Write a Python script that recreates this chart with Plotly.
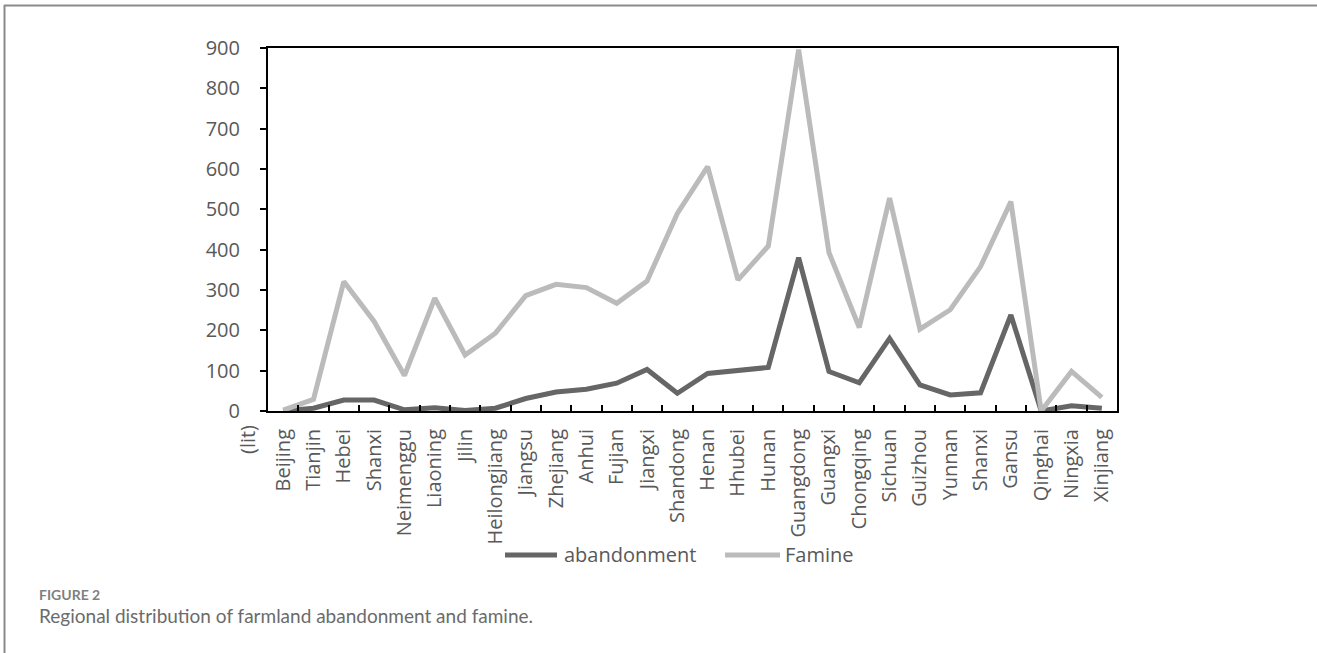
import plotly.graph_objects as go

# Provinces in display order
regions = ["Beijing", "Tianjin", "Hebei", "Shanxi", "Neimenggu", "Liaoning", "Jilin",
           "Heilongjiang", "Jiangsu", "Zhejiang", "Anhui", "Fujian", "Jiangxi", "Shandong",
           "Henan", "Hhubei", "Hunan", "Guangdong", "Guangxi", "Chongqing", "Sichuan",
           "Guizhou", "Yunnan", "Shanxi", "Gansu", "Qinghai", "Ningxia", "Xinjiang"]

abandonment = [0, 7, 27, 27, 3, 8, 1, 7, 31, 47, 54, 69, 103, 44, 93, 102, 108, 380,
               98, 70, 180, 65, 40, 45, 238, 0, 13, 7]

famine = [2, 29, 321, 222, 88, 280, 139, 193, 286, 314, 306, 267, 322, 490, 606, 325,
          409, 896, 393, 207, 528, 203, 251, 358, 519, 0, 98, 34]

y_ticks = list(range(0, 1000, 100))

series = [("abandonment", abandonment, "#666666"), ("Famine", famine, "#BBBBBB")]

W, H = 1317, 653
L, R, T, B = 268, 200, 48, 242
PW, PH = W - L - R, H - T - B


def px(x):
    return (x - L) / PW


def py(y):
    return (H - B - y) / PH


idx = list(range(len(regions)))
FONT = "Open Sans"
TXT = "#595959"

fig = go.Figure()
for name, vals, color in series:
    fig.add_trace(go.Scatter(x=idx, y=vals, mode="lines", name=name,
                             line=dict(color=color, width=5), showlegend=False))

fig.update_layout(
    width=W, height=H,
    margin=dict(l=L, r=R, t=T, b=B, pad=0),
    paper_bgcolor="white", plot_bgcolor="white",
    font=dict(family=FONT, size=20, color=TXT),
    xaxis=dict(
        range=[-0.5, len(regions) - 0.5],
        tickmode="array", tickvals=idx, ticktext=regions,
        tickangle=-90, ticks="", showgrid=False, zeroline=False,
        showline=True, linecolor="black", linewidth=2, mirror=True,
        tickfont=dict(family=FONT, size=20, color=TXT),
        ticklabelstandoff=8,
        minor=dict(tickmode="array", tickvals=[i + 0.5 for i in idx[:-1]],
                   ticks="inside", ticklen=6, tickcolor="black", tickwidth=1.5,
                   showgrid=False),
    ),
    yaxis=dict(
        range=[0, 900], tickmode="array", tickvals=y_ticks,
        ticks="outside", ticklen=6, tickcolor="black", tickwidth=1.5,
        showgrid=False, zeroline=False,
        showline=True, linecolor="black", linewidth=2, mirror=True,
        tickfont=dict(family=FONT, size=20, color=TXT),
        ticklabelstandoff=16,
    ),
)

# Legend drawn below the category labels: sample line + name for each series
legend_y = 555
legend_slots = [(505, 557, 562), (725, 780, 783)]
for (name, _, color), (lx0, lx1, tx) in zip(series, legend_slots):
    fig.add_shape(type="line", xref="paper", yref="paper",
                  x0=px(lx0), x1=px(lx1), y0=py(legend_y), y1=py(legend_y),
                  line=dict(color=color, width=5))
    fig.add_annotation(text=name, x=px(tx), y=py(legend_y - 1), xref="paper", yref="paper",
                       xanchor="left", yanchor="middle", showarrow=False,
                       font=dict(family=FONT, size=20, color=TXT))

# Unit label under the value axis
fig.add_annotation(text="(lit)", x=px(232), y=py(456), xref="paper", yref="paper",
                   showarrow=False, textangle=-90,
                   font=dict(family=FONT, size=20, color=TXT))

# Caption
fig.add_annotation(text="FIGURE 2", x=px(37), y=py(594), xref="paper", yref="paper",
                   xanchor="left", yanchor="middle", showarrow=False,
                   font=dict(family="Lato", size=14, color="#808080", weight="bold"))
fig.add_annotation(text="Regional distribution of farmland abandonment and famine.",
                   x=px(37), y=py(615), xref="paper", yref="paper",
                   xanchor="left", yanchor="middle", showarrow=False,
                   font=dict(family="Lato", size=19, color="#6b6b6b"))

# Outer frame lines (top and left)
fig.add_shape(type="line", xref="paper", yref="paper",
              x0=px(4), x1=px(W), y0=py(5.5), y1=py(5.5),
              line=dict(color="#8a8a8a", width=2))
fig.add_shape(type="line", xref="paper", yref="paper",
              x0=px(4.5), x1=px(4.5), y0=py(5), y1=py(H),
              line=dict(color="#8a8a8a", width=2))

fig.write_html("out.html")
